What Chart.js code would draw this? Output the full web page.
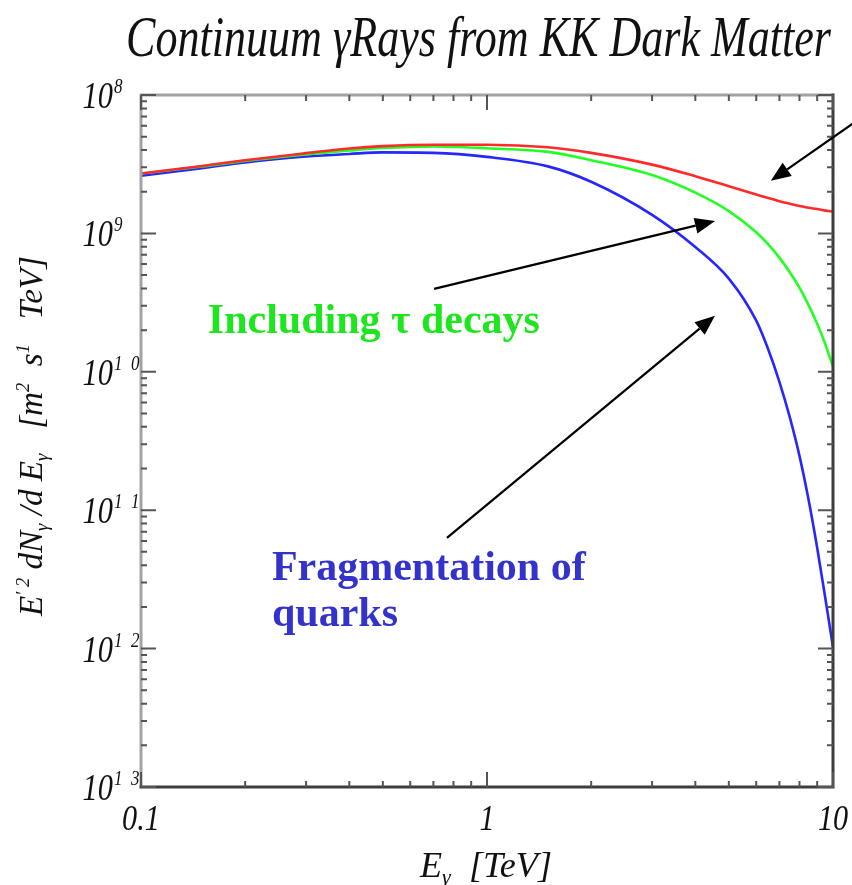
<!DOCTYPE html>
<html>
<head>
<meta charset="utf-8">
<script src="https://cdn.jsdelivr.net/npm/chart.js@4/dist/chart.umd.min.js"></script>
<style>
  html, body { margin: 0; padding: 0; background: #fff; }
  #wrap { width: 852px; height: 885px; position: relative; }
</style>
</head>
<body>
<div id="wrap"><canvas id="c" width="852" height="885"></canvas></div>
<script>
// Photon energy grid [TeV]
const energies = [0.1, 0.15, 0.2, 0.3, 0.4, 0.5, 0.7, 1, 1.5, 2, 3, 4, 5, 6, 6.5, 7, 7.5, 8, 8.5, 9, 9.5, 10];

// E^2 dN/dE for the three spectra
const totalSpectrum = [2.71e-9, 3.07e-9, 3.38e-9, 3.80e-9, 4.11e-9, 4.27e-9, 4.37e-9, 4.37e-9, 4.19e-9, 3.82e-9, 3.14e-9, 2.59e-9, 2.19e-9, 1.91e-9, 1.80e-9, 1.71e-9, 1.64e-9, 1.58e-9, 1.53e-9, 1.50e-9, 1.46e-9, 1.44e-9];
const withTauDecays = [2.71e-9, 3.04e-9, 3.34e-9, 3.72e-9, 3.97e-9, 4.14e-9, 4.25e-9, 4.12e-9, 3.88e-9, 3.38e-9, 2.64e-9, 1.97e-9, 1.45e-9, 1.02e-9, 8.34e-10, 6.68e-10, 5.24e-10, 4.05e-10, 3.03e-10, 2.22e-10, 1.58e-10, 1.09e-10];
const quarkFragmentation = [2.61e-9, 2.96e-9, 3.26e-9, 3.59e-9, 3.75e-9, 3.85e-9, 3.82e-9, 3.57e-9, 3.05e-9, 2.36e-9, 1.36e-9, 7.96e-10, 4.71e-10, 2.34e-10, 1.45e-10, 8.47e-11, 4.70e-11, 2.47e-11, 1.19e-11, 5.36e-12, 2.32e-12, 1.02e-12];

// Axis tick labels
const xTickValues = [0.1, 1, 10];
const xTickLabels = ['0.1', '1', '10'];
const yTickValues = [1e-8, 1e-9, 1e-10, 1e-11, 1e-12, 1e-13];
const yTickExponents = ['8', '9', '1  0', '1  1', '1  2', '1  3'];

// Text labels
const titleText = 'Continuum \u03b3Rays from KK Dark Matter';
const tauLabel = 'Including \u03c4 decays';
const quarkLabel = ['Fragmentation of', 'quarks'];

const SERIF = '"Liberation Serif", "Times New Roman", serif';

// Arrows and labels, anchored in data coordinates (energy, flux)
const arrows = [
  { from: [11.97, 6.76e-9], to: [6.61, 2.40e-9] },
  { from: [0.703, 3.97e-10], to: [4.56, 1.23e-9] },
  { from: [0.766, 6.32e-12], to: [4.56, 2.54e-10] }
];
const notes = [
  { lines: [tauLabel], at: [0.156, 1.91e-10], color: '#1ee61e' },
  { lines: quarkLabel, at: [0.239, 3.15e-12], color: '#3333cc' }
];

function partFont(p) {
  return (p.style || 'italic') + ' ' + (p.weight || 'normal') + ' ' + p.size + 'px ' + SERIF;
}

// Draws a run of text pieces (with super/subscripts), optionally squeezed horizontally
function richText(ctx, parts, o) {
  ctx.save();
  let total = 0;
  const widths = parts.map(p => {
    ctx.font = partFont(p);
    const w = ctx.measureText(p.text).width;
    total += w;
    return w;
  });
  const sx = o.width ? o.width / total : (o.sx || 1);
  ctx.translate(o.x, o.y);
  if (o.angle) ctx.rotate(o.angle);
  ctx.scale(sx, 1);
  let cx = o.align === 'center' ? -total / 2 : (o.align === 'right' ? -total : 0);
  ctx.fillStyle = o.color || '#111';
  ctx.textAlign = 'left';
  ctx.textBaseline = 'alphabetic';
  parts.forEach((p, i) => {
    ctx.font = partFont(p);
    ctx.fillText(p.text, cx, -(p.rise || 0));
    cx += widths[i];
  });
  ctx.restore();
}

function drawArrow(ctx, x1, y1, x2, y2) {
  const ang = Math.atan2(y2 - y1, x2 - x1);
  const len = 20, half = 8;
  const bx = x2 - len * Math.cos(ang), by = y2 - len * Math.sin(ang);
  ctx.save();
  ctx.strokeStyle = '#000';
  ctx.fillStyle = '#000';
  ctx.lineWidth = 2.2;
  ctx.beginPath();
  ctx.moveTo(x1, y1);
  ctx.lineTo(bx, by);
  ctx.stroke();
  ctx.beginPath();
  ctx.moveTo(x2, y2);
  ctx.lineTo(bx + half * Math.sin(ang), by - half * Math.cos(ang));
  ctx.lineTo(bx - half * Math.sin(ang), by + half * Math.cos(ang));
  ctx.closePath();
  ctx.fill();
  ctx.restore();
}

const framePlugin = {
  id: 'frame',
  afterDraw(chart) {
    const ctx = chart.ctx;
    const xs = chart.scales.x, ys = chart.scales.y;
    const { left, right, top, bottom } = chart.chartArea;

    // Box: light top/left edges, dark bottom/right edges
    ctx.save();
    ctx.lineWidth = 3;
    ctx.strokeStyle = '#a3a3a3';
    ctx.beginPath();
    ctx.moveTo(left, bottom); ctx.lineTo(left, top); ctx.lineTo(right, top);
    ctx.stroke();
    ctx.strokeStyle = '#3d3d3d';
    ctx.beginPath();
    ctx.moveTo(right, top - 1.5); ctx.lineTo(right, bottom); ctx.lineTo(left - 1.5, bottom);
    ctx.stroke();

    // Inward log ticks on all four sides
    ctx.lineWidth = 2;
    ctx.strokeStyle = '#555';
    const major = 15, minor = 6;
    for (let d = -1; d <= 1; d++) {
      for (let m = 1; m <= 9; m++) {
        const v = m * Math.pow(10, d);
        if (v < 0.1 - 1e-12 || v > 10 + 1e-9) continue;
        const px = xs.getPixelForValue(v);
        const L = m === 1 ? major : minor;
        ctx.beginPath();
        ctx.moveTo(px, bottom); ctx.lineTo(px, bottom - L);
        ctx.moveTo(px, top); ctx.lineTo(px, top + L);
        ctx.stroke();
      }
    }
    for (let d = -13; d <= -8; d++) {
      for (let m = 1; m <= 9; m++) {
        const v = m * Math.pow(10, d);
        if (v > 1.0001e-8) continue;
        const py = ys.getPixelForValue(v);
        const L = m === 1 ? major : minor;
        ctx.beginPath();
        ctx.moveTo(left, py); ctx.lineTo(left + L, py);
        ctx.moveTo(right, py); ctx.lineTo(right - L, py);
        ctx.stroke();
      }
    }
    ctx.restore();

    // Y tick labels: 10 with superscript exponent
    yTickValues.forEach((v, i) => {
      const py = ys.getPixelForValue(v);
      richText(ctx, [{ text: '10', size: 38 }], { x: 113, y: py + 13, align: 'right', sx: 0.8 });
      richText(ctx, [{ text: yTickExponents[i], size: 20 }], { x: 114, y: py - 2, align: 'left', sx: 0.85 });
    });

    // X tick labels
    xTickValues.forEach((v, i) => {
      const px = xs.getPixelForValue(v);
      richText(ctx, [{ text: xTickLabels[i], size: 36 }], { x: px, y: 830, align: 'center', sx: 0.84 });
    });

    // Axis titles
    richText(ctx, [
      { text: 'E', size: 36 },
      { text: '\u03b3', size: 22, rise: -7 },
      { text: '  [TeV]', size: 36 }
    ], { x: 486, y: 877, align: 'center', width: 132 });

    richText(ctx, [
      { text: 'E', size: 34 },
      { text: '\u2032 2', size: 19, rise: 13 },
      { text: ' dN', size: 34 },
      { text: '\u03b3', size: 19, rise: -6 },
      { text: ' /d E', size: 34 },
      { text: '\u03b3', size: 19, rise: -6 },
      { text: '   [m', size: 34 },
      { text: '2', size: 19, rise: 13 },
      { text: '  s', size: 34 },
      { text: '1', size: 19, rise: 13 },
      { text: '   TeV]', size: 34 }
    ], { x: 42, y: 436, angle: -Math.PI / 2, align: 'center', width: 360 });

    // Title
    richText(ctx, [{ text: titleText, size: 58 }], { x: 126, y: 56, align: 'left', width: 705 });

    // Arrows
    arrows.forEach(a => {
      drawArrow(ctx,
        xs.getPixelForValue(a.from[0]), ys.getPixelForValue(a.from[1]),
        xs.getPixelForValue(a.to[0]), ys.getPixelForValue(a.to[1]));
    });

    // Curve labels
    notes.forEach(n => {
      const x0 = xs.getPixelForValue(n.at[0]);
      const y0 = ys.getPixelForValue(n.at[1]);
      n.lines.forEach((line, k) => {
        richText(ctx, [{ text: line, size: 42, style: 'normal', weight: 'bold' }],
          { x: x0, y: y0 + k * 46, align: 'left', color: n.color });
      });
    });
  }
};

function series(values) {
  return energies.map((e, i) => ({ x: e, y: values[i] }));
}

new Chart(document.getElementById('c'), {
  type: 'line',
  data: {
    datasets: [
      { label: 'total', data: series(totalSpectrum), borderColor: '#ff2a2a', borderWidth: 2.6 },
      { label: 'tau', data: series(withTauDecays), borderColor: '#22ff22', borderWidth: 2.6 },
      { label: 'quarks', data: series(quarkFragmentation), borderColor: '#2626ff', borderWidth: 2.6 }
    ]
  },
  options: {
    responsive: false,
    animation: false,
    devicePixelRatio: 1,
    layout: { padding: { left: 141, right: 19, top: 95, bottom: 98 } },
    elements: {
      point: { radius: 0 },
      line: { cubicInterpolationMode: 'monotone', fill: false }
    },
    scales: {
      x: { type: 'logarithmic', min: 0.1, max: 10, display: false },
      y: { type: 'logarithmic', min: 1e-13, max: 1e-8, display: false }
    },
    plugins: {
      legend: { display: false },
      tooltip: { enabled: false },
      title: { display: false }
    }
  },
  plugins: [framePlugin]
});
</script>
</body>
</html>
